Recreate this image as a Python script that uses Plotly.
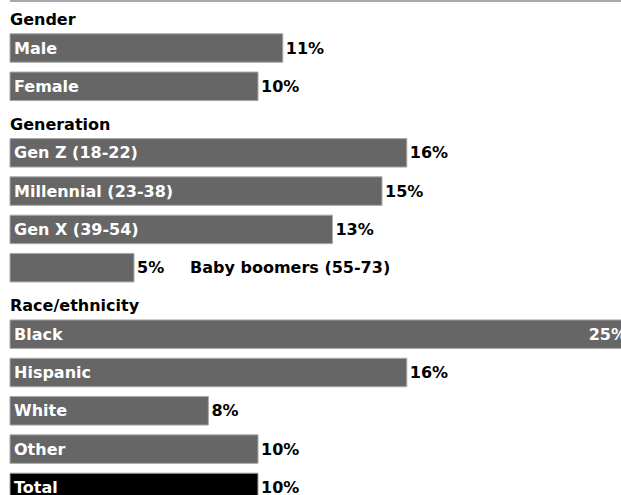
import plotly.graph_objects as go

# ---- data ----
group_titles = ["Gender", "Generation", "Race/ethnicity"]
gender_labels = ["Male", "Female"]
gender_values = [11, 10]
generation_labels = ["Gen Z (18-22)", "Millennial (23-38)", "Gen X (39-54)", "Baby boomers (55-73)"]
generation_values = [16, 15, 13, 5]
race_labels = ["Black", "Hispanic", "White", "Other"]
race_values = [25, 16, 8, 10]
total_label = "Total"
total_value = 10

# ---- layout logic (pixel-space y axis) ----
W, H = 621, 495
PITCH = 38.3
HEAD_TO_BAR = 28.5
BAR_TO_HEAD = 38.0
BAR_H = 28.5
X_LEFT_PX = 10
PX_PER_PCT = 24.8

groups = [(group_titles[0], gender_labels, gender_values),
          (group_titles[1], generation_labels, generation_values),
          (group_titles[2], race_labels, race_values)]

labels, values, ys, colors = [], [], [], []
heads = []
cursor = 19.5
for title, labs, vals in groups:
    heads.append((title, cursor))
    y = cursor + HEAD_TO_BAR
    for lab, v in zip(labs, vals):
        labels.append(lab); values.append(v); ys.append(y); colors.append("#666666")
        last = y
        y += PITCH
    cursor = last + BAR_TO_HEAD
# total follows race group directly
labels.append(total_label); values.append(total_value); ys.append(last + PITCH); colors.append("#000000")

x_min = -X_LEFT_PX / PX_PER_PCT
x_max = (W - X_LEFT_PX) / PX_PER_PCT

FONT = "DejaVu Sans"
SIZE = 16


def fits(lab, v):
    return v >= 8


textpos = ["inside" if v >= x_max - 1 else "outside" for v in values]

fig = go.Figure()
fig.add_trace(go.Bar(
    x=values, y=ys, orientation="h", width=BAR_H,
    marker=dict(color=colors, line=dict(color="#a8a8a8", width=1)),
    text=[f"{v}%" for v in values],
    textposition=textpos,
    insidetextanchor="end",
    insidetextfont=dict(family=FONT, size=SIZE, color="white", weight="bold"),
    outsidetextfont=dict(family=FONT, size=SIZE, color="black", weight="bold"),
    constraintext="none",
    cliponaxis=True,
    hoverinfo="skip",
))

annotations = []
for title, hy in heads:
    annotations.append(dict(x=0, y=hy, xref="x", yref="y", text=title, showarrow=False,
                            xanchor="left", yanchor="middle", xshift=-2,
                            font=dict(family=FONT, size=SIZE, color="black", weight="bold")))
for lab, v, y in zip(labels, values, ys):
    if fits(lab, v):
        annotations.append(dict(x=0, y=y, xref="x", yref="y", text=lab, showarrow=False,
                                xanchor="left", yanchor="middle", xshift=2,
                                font=dict(family=FONT, size=SIZE, color="white", weight="bold")))
    else:
        annotations.append(dict(x=v, y=y, xref="x", yref="y", text=lab, showarrow=False,
                                xanchor="left", yanchor="middle", xshift=54,
                                font=dict(family=FONT, size=SIZE, color="black", weight="bold")))

fig.update_layout(
    width=W, height=H,
    margin=dict(l=0, r=0, t=0, b=0),
    paper_bgcolor="white", plot_bgcolor="white",
    showlegend=False, hovermode=False,
    xaxis=dict(range=[x_min, x_max], visible=False, fixedrange=True),
    yaxis=dict(range=[H, 0], visible=False, fixedrange=True),
    annotations=annotations,
    shapes=[dict(type="line", xref="x", yref="y", x0=0, x1=x_max + 1, y0=1, y1=1,
                 line=dict(color="#8c8c8c", width=1.5))],
)

fig.write_html(
    "out.html",
    config={"displayModeBar": False},
    post_script="document.body.style.margin='0px';document.body.style.overflow='hidden';",
)
